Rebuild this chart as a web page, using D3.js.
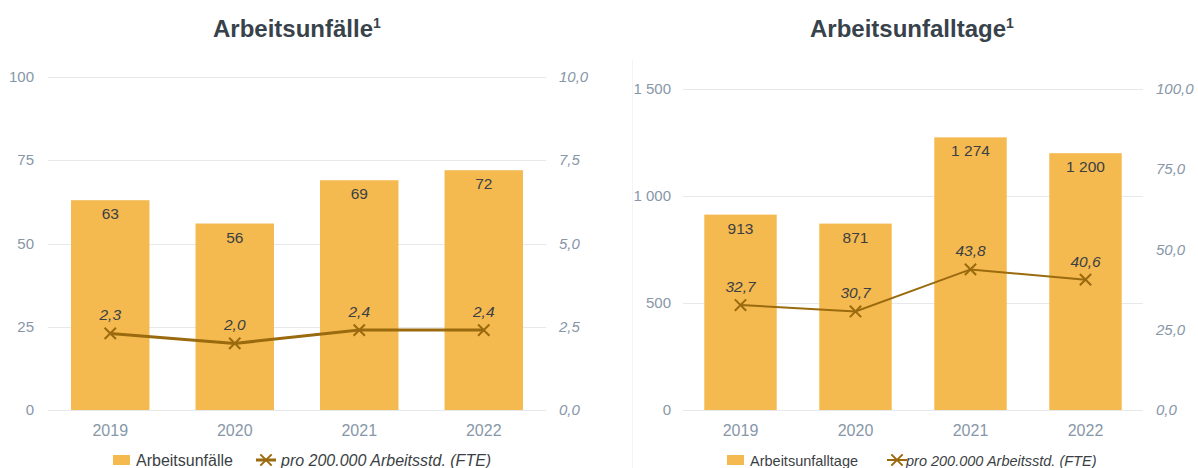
<!DOCTYPE html>
<html>
<head>
<meta charset="utf-8">
<script src="https://cdn.jsdelivr.net/npm/d3@7"></script>
<style>
  body { margin: 0; background: #fff; }
  svg { display: block; font-family: "Liberation Sans", Arial, sans-serif; }
</style>
</head>
<body>
<svg id="chart" width="1198" height="468"></svg>
<script>
(function() {

    // data
    var years = ["2019", "2020", "2021", "2022"];

    var unfaelle = [63, 56, 69, 72];
    var unfaelleRate = [2.3, 2.0, 2.4, 2.4];
    var unfaelleTicks = [0, 25, 50, 75, 100];
    var unfaelleRateTicks = [0, 2.5, 5, 7.5, 10];

    var tage = [913, 871, 1274, 1200];
    var tageRate = [32.7, 30.7, 43.8, 40.6];
    var tageTicks = [0, 500, 1000, 1500];
    var tageRateTicks = [0, 25, 50, 75, 100];

    const BAR_COLOR = "#f4b94f";
    const LINE_COLOR = "#9a6a0e";
    const TICK_COLOR = "#8797a8";
    const GRID_COLOR = "#e6e8ea";
    const TEXT_COLOR = "#3b3f44";

    var de = d3.formatLocale({decimal: ",", thousands: " ", grouping: [3], currency: ["", " €"]});
    var fmtInt = de.format(",d");
    var fmtDec = de.format(".1f");

    var svg = d3.select("#chart");

    // faint frame line between the two panels
    svg.append("line")
        .attr("x1", 632.5).attr("x2", 632.5)
        .attr("y1", 60).attr("y2", 468)
        .attr("stroke", "#f3f4f5").attr("stroke-width", 1);

    drawChart({
        title: "Arbeitsunfälle",
        titleX: 213,
        left: 48, right: 546, top: 77,
        leftLabelX: 34, rightLabelX: 559,
        bars: unfaelle, rate: unfaelleRate,
        yMax: 100, rMax: 10,
        yTicks: unfaelleTicks, rTicks: unfaelleRateTicks,
        lineWidth: 3,
        barLegend: "Arbeitsunfälle",
        legendFont: 16,
        legendX: 113, lineLegendX: 256, lineTextX: 281
    });

    drawChart({
        title: "Arbeitsunfalltage",
        titleX: 810,
        left: 683, right: 1143, top: 89,
        leftLabelX: 671, rightLabelX: 1156,
        bars: tage, rate: tageRate,
        yMax: 1500, rMax: 100,
        yTicks: tageTicks, rTicks: tageRateTicks,
        lineWidth: 2,
        barLegend: "Arbeitsunfalltage",
        legendFont: 14.5,
        legendX: 727, lineLegendX: 887, lineTextX: 906
    });

    function drawChart(c) {
        var g = svg.append("g");
        var bottom = 410;

        var x = d3.scaleBand().domain(years).range([c.left, c.right]).paddingInner(0.37).paddingOuter(0.185);
        var y = d3.scaleLinear().domain([0, c.yMax]).range([bottom, c.top]);
        var r = d3.scaleLinear().domain([0, c.rMax]).range([bottom, c.top]);

        // title
        var t = g.append("text")
            .attr("x", c.titleX).attr("y", 37)
            .attr("font-size", 24).attr("font-weight", "bold")
            .attr("fill", "#37424b");
        t.append("tspan").text(c.title);
        t.append("tspan").attr("font-size", 14).attr("dy", -9).text("1");

        // grid lines
        g.selectAll(".grid").data(c.yTicks).enter().append("line")
            .attr("x1", c.left).attr("x2", c.right)
            .attr("y1", function(d) { return Math.round(y(d)) + 0.5; })
            .attr("y2", function(d) { return Math.round(y(d)) + 0.5; })
            .attr("stroke", GRID_COLOR).attr("stroke-width", 1);

        // left axis labels
        g.selectAll(".ly").data(c.yTicks).enter().append("text")
            .attr("x", c.leftLabelX).attr("y", function(d) { return y(d) + 5; })
            .attr("text-anchor", "end").attr("font-size", 15)
            .attr("fill", TICK_COLOR)
            .text(function(d) { return fmtInt(d); });

        // right axis labels
        g.selectAll(".ry").data(c.rTicks).enter().append("text")
            .attr("x", c.rightLabelX).attr("y", function(d) { return r(d) + 5; })
            .attr("text-anchor", "start").attr("font-size", 15)
            .attr("font-style", "italic")
            .attr("fill", TICK_COLOR)
            .text(function(d) { return fmtDec(d); });

        // bars
        g.selectAll(".bar").data(c.bars).enter().append("rect")
            .attr("x", function(d, i) { return x(years[i]); })
            .attr("y", function(d) { return y(d); })
            .attr("width", x.bandwidth())
            .attr("height", function(d) { return bottom - y(d); })
            .attr("fill", BAR_COLOR);

        g.selectAll(".barlabel").data(c.bars).enter().append("text")
            .attr("x", function(d, i) { return x(years[i]) + x.bandwidth() / 2; })
            .attr("y", function(d) { return y(d) + 19; })
            .attr("text-anchor", "middle").attr("font-size", 15.5)
            .attr("fill", TEXT_COLOR)
            .text(function(d) { return fmtInt(d); });

        // x labels
        g.selectAll(".xl").data(years).enter().append("text")
            .attr("x", function(d) { return x(d) + x.bandwidth() / 2; })
            .attr("y", 436)
            .attr("text-anchor", "middle").attr("font-size", 16)
            .attr("fill", TICK_COLOR)
            .text(function(d) { return d; });

        // line
        var line = d3.line()
            .x(function(d, i) { return x(years[i]) + x.bandwidth() / 2; })
            .y(function(d) { return r(d); });

        g.append("path").datum(c.rate)
            .attr("d", line)
            .attr("fill", "none")
            .attr("stroke", LINE_COLOR)
            .attr("stroke-width", c.lineWidth);

        var cross = d3.symbol().type(d3.symbolX).size(85);
        g.selectAll(".mark").data(c.rate).enter().append("path")
            .attr("d", cross)
            .attr("transform", function(d, i) {
                return "translate(" + (x(years[i]) + x.bandwidth() / 2) + "," + r(d) + ")";
            })
            .attr("fill", "none")
            .attr("stroke", LINE_COLOR).attr("stroke-width", 2);

        g.selectAll(".ratelabel").data(c.rate).enter().append("text")
            .attr("x", function(d, i) { return x(years[i]) + x.bandwidth() / 2; })
            .attr("y", function(d) { return r(d) - 13; })
            .attr("text-anchor", "middle").attr("font-size", 15.5)
            .attr("font-style", "italic")
            .attr("fill", TEXT_COLOR)
            .text(function(d) { return fmtDec(d); });

        // legend
        var ly = 460;
        g.append("rect")
            .attr("x", c.legendX).attr("y", ly - 5)
            .attr("width", 17).attr("height", 10)
            .attr("fill", BAR_COLOR);
        g.append("text")
            .attr("x", c.legendX + 23).attr("y", ly + 5.5)
            .attr("font-size", c.legendFont).attr("fill", TEXT_COLOR)
            .text(c.barLegend);

        g.append("line")
            .attr("x1", c.lineLegendX).attr("x2", c.lineLegendX + 20)
            .attr("y1", ly).attr("y2", ly)
            .attr("stroke", LINE_COLOR).attr("stroke-width", c.lineWidth);
        g.append("path")
            .attr("d", cross)
            .attr("transform", "translate(" + (c.lineLegendX + 10) + "," + ly + ")")
            .attr("fill", "none")
            .attr("stroke", LINE_COLOR).attr("stroke-width", 2);
        g.append("text")
            .attr("x", c.lineTextX).attr("y", ly + 5.5)
            .attr("font-size", c.legendFont).attr("font-style", "italic")
            .attr("fill", TEXT_COLOR)
            .text("pro 200.000 Arbeitsstd. (FTE)");
    }
})();
</script>
</body>
</html>
